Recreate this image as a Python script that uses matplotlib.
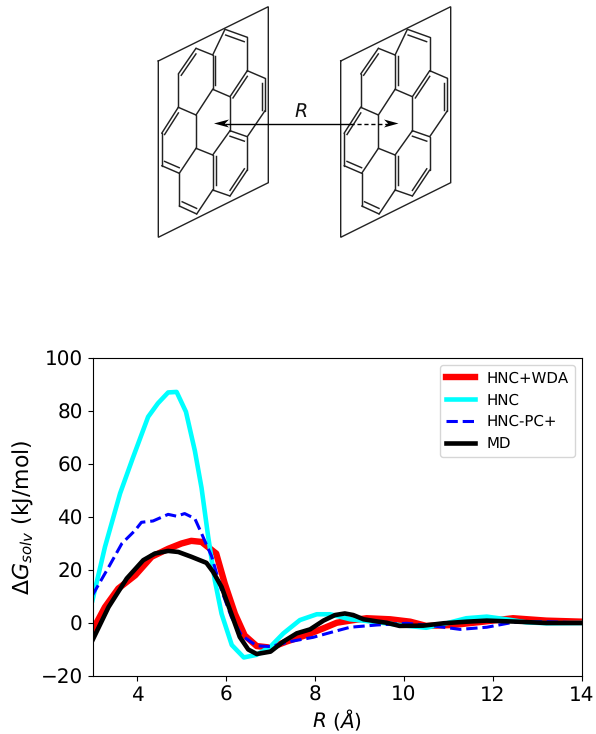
import matplotlib
matplotlib.use("Agg")
import matplotlib.pyplot as plt
import numpy as np

plt.rcParams["text.hinting"] = "no_hinting"
plt.rcParams["text.hinting_factor"] = 1

W, H = 596, 734

# ---------- data ----------
red_x = [3,3.28,3.58,3.96,4.33,4.7,5,5.22,5.45,5.78,5.97,6.2,6.42,6.69,7,7.36,7.81,8.19,8.49,8.79,9.16,9.69,10.14,10.5,11.1,11.78,12.45,13.2,14]
red_y = [-2.8,6,13,18,25,28,30,31,30.6,26.2,15,3.5,-4.7,-8.7,-9.3,-7,-4.5,-2,0.1,0.9,1.8,1.4,0.5,-1.1,-0.75,0.5,1.8,0.9,0.5]
cyan_x = [3,3.28,3.62,3.9,4.25,4.47,4.7,4.89,5.1,5.3,5.45,5.6,5.75,5.9,6.13,6.4,6.69,7,7.29,7.66,8.04,8.34,8.79,9.3,9.9,10.5,10.96,11.4,11.86,12.3,12.75,13.2,14]
cyan_y = [8.6,28.7,48.9,62,77.8,82.9,87,87.2,79.7,65,51,32.5,16,3.5,-8.3,-13,-12,-8.9,-3.9,1.1,3.3,3.3,1.4,0.5,-0.75,-1.8,-0.1,1.8,2.4,1.4,0.25,-0.1,0]
blue_x = [3,3.36,3.66,3.96,4.1,4.36,4.7,4.89,5.07,5.3,5.45,5.68,5.9,6.12,6.35,6.69,7,7.44,7.96,8.41,8.79,9.39,10.06,10.66,11.26,11.86,12.45,13.2,14]
blue_y = [10.5,21,30,35,38,38.5,41,40.3,41.3,39.4,33.8,25,12.3,2.3,-4.7,-8.6,-8.9,-7,-5.4,-3.3,-1.6,-0.75,-0.1,-1.1,-2.4,-1.6,0.25,0.5,0]
black_x = [3,3.36,3.77,4.14,4.4,4.7,4.93,5.22,5.56,5.71,5.9,6.12,6.31,6.5,6.69,7,7.29,7.59,7.89,8.19,8.45,8.67,8.86,9.09,9.39,9.61,9.9,10.43,10.89,11.41,11.86,12.54,13.2,14]
black_y = [-6.5,6,16.8,23.7,26.2,27.2,26.8,25,22.7,19.3,13.6,3.5,-5.3,-10,-11.7,-10.8,-7,-3.9,-2.4,0.9,3,3.6,3,1.4,0.6,0.1,-1.1,-1,-0.1,0.5,0.9,0.5,0,0]
labels = ["HNC+WDA", "HNC", "HNC-PC+", "MD"]

# ---------- schematic (pixel coordinates) ----------
plane = [(158.3,61),(268.3,6.7),(268.3,182.7),(158.3,237.3),(158.3,61)]
atoms = dict(a=(225,29.3),b=(247.3,37.3),c=(247.3,70.7),d=(265,78.3),e=(265,110.7),f=(247.3,136.7),
             g=(230,130.7),h=(230,96.7),i=(212.7,89.3),j=(212.7,55),k=(196,48.3),l=(178.3,74),
             m=(178.3,107.3),n=(196,115),o=(196,148.3),p=(212.7,155),q=(212.7,190),r=(230,196),
             s=(247.3,170),t=(161.7,133.3),u=(161.7,165.7),v=(179.3,173.3),w=(179.3,206),x=(196.7,214))
bonds = "ab bc cd de ef fg gh hc hi ij ja jk kl lm mn ni no op pg mt tu uv vo vw wx xq qp qr rs sf".split()
# double bond -> the ring its inner line sits in
doubles = {"ab":"abchij","ch":"cdefgh","de":"cdefgh","fg":"gfsrqp","ij":"abchij","kl":"jinmlk",
           "mt":"mnovut","uv":"mnovut","wx":"opqxwv","qp":"gfsrqp","rs":"gfsrqp"}
offset = 182.4
ink = "#222222"
arrow_left = [(214,123.5),(229,119.5),(225,123.5),(229,127.5)]
arrow_right = [(398.5,123.5),(384,119.5),(388,123.5),(384,127.5)]

fig = plt.figure(figsize=(W/100, H/100), dpi=100)
bg = fig.add_axes([0, 0, 1, 1])
bg.set_xlim(0, W); bg.set_ylim(H, 0); bg.axis("off")
for dx in (0, offset):
    px, py = zip(*plane)
    bg.plot(np.array(px)+dx, py, color=ink, lw=1.0, solid_joinstyle="miter")
    for b in bonds:
        p0, p1 = atoms[b[0]], atoms[b[1]]
        bg.plot([p0[0]+dx, p1[0]+dx], [p0[1], p1[1]], color=ink, lw=1.05, solid_capstyle="round")
    for b, ring in doubles.items():
        p0, p1 = np.array(atoms[b[0]]), np.array(atoms[b[1]])
        c = np.mean([atoms[k] for k in ring], axis=0)
        q0 = p0 + (c - p0) * 0.17
        q1 = p1 + (c - p1) * 0.17
        bg.plot([q0[0]+dx, q1[0]+dx], [q0[1], q1[1]], color=ink, lw=1.05)
bg.plot([226, 350], [123.5, 123.5], color="black", lw=1.0)
bg.plot([350, 388], [123.5, 123.5], color="black", lw=1.0, ls=(0, (3, 2)))
for head in (arrow_left, arrow_right):
    bg.fill(*zip(*head), color="black", lw=0)
bg.text(301, 112, "R", style="italic", fontsize=13.5, ha="center", va="center", color="#111111")

# ---------- chart ----------
ax = fig.add_axes([92.5/W, 1-676/H, (582-92.5)/W, (676-358)/H])
ax.plot(red_x, red_y, color="red", lw=4.6, label=labels[0])
ax.plot(cyan_x, cyan_y, color="cyan", lw=3.3, label=labels[1])
ax.plot(blue_x, blue_y, color="blue", lw=2.2, ls="--", label=labels[2])
ax.plot(black_x, black_y, color="black", lw=3.3, label=labels[3])
ax.set_xlim(3, 14); ax.set_ylim(-20, 100)
ax.set_xticks([4, 6, 8, 10, 12, 14])
ax.set_yticks(range(-20, 101, 20))
ax.tick_params(labelsize=14.5)
ax.set_xlabel(r"$R\ (\AA)$", fontsize=14.5, labelpad=2)
ax.set_ylabel(r"$\Delta G_{solv}$ (kJ/mol)", fontsize=15.6, labelpad=3)
ax.legend(loc="upper right", fontsize=10.5, labelspacing=0.5, handlelength=2.0, borderaxespad=0.5)
fig.savefig("out.png", dpi=100)
